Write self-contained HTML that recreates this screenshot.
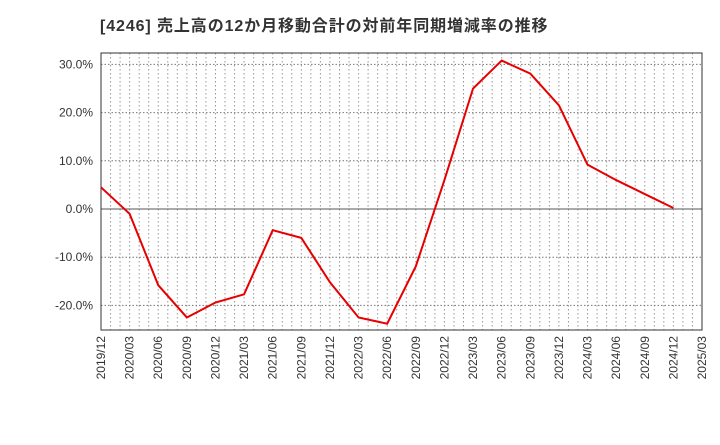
<!DOCTYPE html>
<html><head><meta charset="utf-8"><style>
body{margin:0;background:#fff;}
text{font-family:"Liberation Sans","Noto Sans CJK JP",sans-serif;}
</style></head><body>
<svg id="c" width="720" height="440" xmlns="http://www.w3.org/2000/svg">
<text x="100" y="31" font-size="16" letter-spacing="0.9" font-weight="bold" fill="#333">[4246]  売上高の12か月移動合計の対前年同期増減率の推移</text>
</svg>
<script>
const categories=["2019/12","2020/03","2020/06","2020/09","2020/12","2021/03","2021/06","2021/09","2021/12","2022/03","2022/06","2022/09","2022/12","2023/03","2023/06","2023/09","2023/12","2024/03","2024/06","2024/09","2024/12","2025/03"];
const values=[4.5,-1.0,-15.8,-22.5,-19.4,-17.7,-4.4,-6.0,-15.2,-22.5,-23.8,-11.9,6.0,25.0,30.8,28.1,21.5,9.2,6.0,3.1,0.2];
const yTicks=[-20,-10,0,10,20,30];
const L=101,R=702,T=53,B=330;
const ns="http://www.w3.org/2000/svg";
const svg=document.getElementById('c');
const xq=i=>L+(R-L)*i/(categories.length-1);
const y=v=>209-v*4.82;
function mk(t,a){const e=document.createElementNS(ns,t);for(const k in a)e.setAttribute(k,a[k]);svg.appendChild(e);return e;}
const nm=(categories.length-1)*3;
for(let m=1;m<nm;m++){const x=L+(R-L)*m/nm;
const g=mk('line',{x1:x,x2:x,y1:T,y2:B,stroke:'#999','stroke-width':1,'stroke-dasharray':'1.5,2.5'});

}
yTicks.forEach(v=>{const yy=y(v);
const g=mk('line',{x1:L,x2:R,y1:yy,y2:yy,stroke:v===0?'#555':'#777','stroke-width':1,'stroke-dasharray':v===0?'':'1.5,2'});


const t=mk('text',{x:L-8,y:yy+4,'text-anchor':'end','font-size':12,fill:'#333'});t.textContent=v.toFixed(1)+'%';

});
const f=mk('rect',{x:L,y:T,width:R-L,height:B-T,fill:'none',stroke:'#333','stroke-width':1});


categories.forEach((c,i)=>{const x=xq(i);
const t=mk('text',{transform:`translate(${x+4},${B+6}) rotate(-90)`,'text-anchor':'end','font-size':12,fill:'#333'});t.textContent=c;

});
const p=mk('polyline',{points:values.map((v,i)=>xq(i)+','+y(v)).join(' '),fill:'none',stroke:'#e60000','stroke-width':2});


</script>
</body></html>
